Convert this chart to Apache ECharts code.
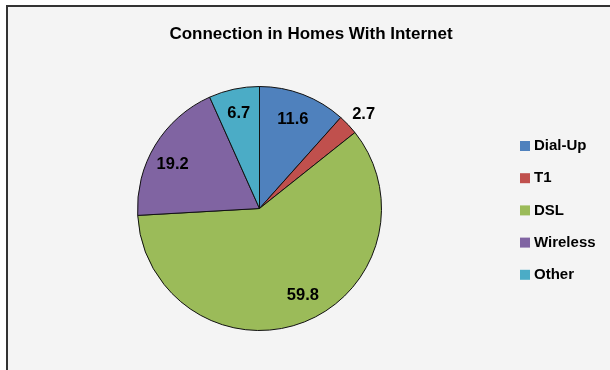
<!DOCTYPE html>
<html><head><meta charset="utf-8">
<script src="https://cdn.jsdelivr.net/npm/echarts@6/dist/echarts.min.js"></script>
<style>html,body{margin:0;padding:0;background:#fff}#c{width:610px;height:370px}</style>
</head><body><div id="c"></div>
<script>
const categories = ['Dial-Up', 'T1', 'DSL', 'Wireless', 'Other'];
const values = [11.6, 2.7, 59.8, 19.2, 6.7];
const colors = ['#4f81bd', '#c0504d', '#9bbb59', '#8064a2', '#4bacc6'];
const titleText = 'Connection in Homes With Internet';

const FONT = '"Liberation Sans", Arial, sans-serif';
const R = 122;
const center = [259.5, 208.5];
const outsideLabel = 'T1';
// label nudges (dx, dy in px) to mimic Excel best-fit placement
const labelNudge = {'Dial-Up': [-2, 3.5], 'T1': [0, 4], 'DSL': [8, -6], 'Wireless': [-2, 8], 'Other': [0, 2]};
const textStyle = {fontFamily: FONT, fontSize: 16.5, fontWeight: 'bold', color: '#000'};

function hPad(c) { const dx = labelNudge[c][0]; return [0, Math.max(0, -2 * dx), 0, Math.max(0, 2 * dx)]; }
function vPad(c) { const dy = labelNudge[c][1]; return [Math.max(0, 2 * dy), 0, Math.max(0, -2 * dy), 0]; }

function labelSeries(radius, showFn) {
  return {
    type: 'pie', center: center, radius: [0, radius], startAngle: 90, clockwise: true,
    silent: true, legendHoverLink: false, avoidLabelOverlap: false,
    itemStyle: {color: 'rgba(0,0,0,0)', borderWidth: 0},
    data: categories.map((c, i) => ({
      name: c, value: values[i],
      label: {show: showFn(c), padding: hPad(c), rich: {v: Object.assign({padding: vPad(c)}, textStyle)}}
    })),
    label: Object.assign({position: 'inside', formatter: '{v|{c}}'}, textStyle),
    labelLine: {show: false},
    emphasis: {disabled: true}
  };
}

const chart = echarts.init(document.getElementById('c'), null, {renderer: 'canvas'});
chart.setOption({
  animation: false,
  graphic: [{
    type: 'rect', left: 6, top: 5, z: -10,
    shape: {width: 700, height: 500},
    style: {fill: '#f4f4f4', stroke: '#333', lineWidth: 2}
  }],
  title: {
    text: titleText, left: 311, top: 26, textAlign: 'center', padding: 0,
    textStyle: {fontFamily: FONT, fontSize: 17, fontWeight: 'bold', color: '#000'}
  },
  legend: {
    orient: 'vertical', left: 520, top: 138.5, padding: 0,
    itemWidth: 10, itemHeight: 10, itemGap: 17.2, icon: 'rect',
    itemStyle: {borderWidth: 0},
    data: categories,
    textStyle: {fontFamily: FONT, fontSize: 15, fontWeight: 'bold', color: '#000', padding: [0,0,0,-1]}
  },
  series: [{
    type: 'pie', center: center, radius: [0, R], startAngle: 90, clockwise: true,
    avoidLabelOverlap: false,
    itemStyle: {borderColor: '#111', borderWidth: 1},
    data: categories.map((c, i) => ({name: c, value: values[i], itemStyle: {color: colors[i]}})),
    label: {show: false},
    labelLine: {show: false},
    emphasis: {disabled: true}
  },
  labelSeries(R * 1.58, c => c !== outsideLabel),
  labelSeries(R * 2.3, c => c === outsideLabel)
  ]
});
</script></body></html>
